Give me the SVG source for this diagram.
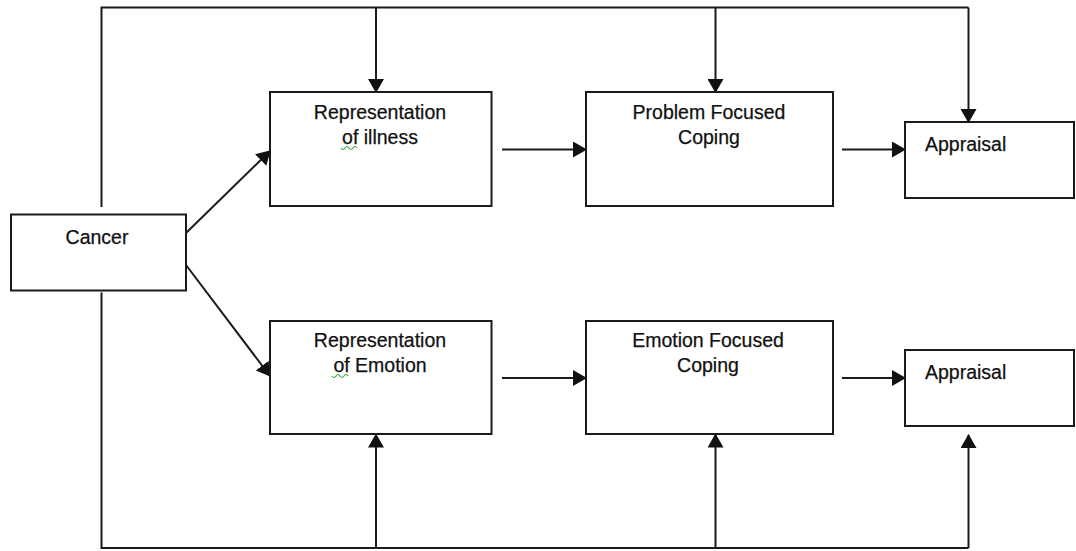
<svg xmlns="http://www.w3.org/2000/svg" width="1076" height="551" viewBox="0 0 1076 551">
  <style>
    .box { fill: #ffffff; stroke: #1a1a1a; stroke-width: 2; }
    .lbl { font-family: "Liberation Sans", Arial, sans-serif; font-size: 19.5px; fill: #111111; stroke: #111111; stroke-width: 0.25; }
    .mid { text-anchor: middle; }
    .conn { fill: none; stroke: #1a1a1a; stroke-width: 2; }
    .arr { fill: none; stroke: #1a1a1a; stroke-width: 2; marker-end: url(#head); }
    .squig { fill: none; stroke: #3aa63a; stroke-width: 1.2; }
  </style>
  <defs>
    <marker id="head" viewBox="0 0 14 16" refX="13" refY="8" markerWidth="14" markerHeight="16" markerUnits="userSpaceOnUse" orient="auto">
      <path d="M0,0 L14,8 L0,16 z" fill="#111111"/>
    </marker>
  </defs>
  <rect width="1076" height="551" fill="#ffffff"/>

  <g id="connectors">
    <!-- top feedback bus -->
    <polyline class="conn" points="101.5,207 101.5,7.5 968.5,7.5"/>
    <line class="arr" x1="968.5" y1="7.5" x2="968.5" y2="122"/>
    <line class="arr" x1="376" y1="7.5" x2="376" y2="92"/>
    <line class="arr" x1="715.5" y1="7.5" x2="715.5" y2="92"/>
    <!-- bottom feedback bus -->
    <polyline class="conn" points="101.5,292.5 101.5,548 968.5,548"/>
    <line class="arr" x1="968.5" y1="548" x2="968.5" y2="435"/>
    <line class="arr" x1="376" y1="548" x2="376" y2="434.5"/>
    <line class="arr" x1="715.5" y1="548" x2="715.5" y2="434.5"/>
    <!-- cancer to representations -->
    <line class="arr" x1="186" y1="233" x2="270" y2="151"/>
    <line class="arr" x1="186" y1="265" x2="270" y2="376"/>
    <!-- horizontal flows -->
    <line class="arr" x1="502" y1="149.5" x2="586" y2="149.5"/>
    <line class="arr" x1="842" y1="149.5" x2="905" y2="149.5"/>
    <line class="arr" x1="502" y1="378" x2="586" y2="378"/>
    <line class="arr" x1="842" y1="378" x2="905" y2="378"/>
  </g>

  <g id="cancer">
    <rect class="box" x="11" y="214.5" width="175" height="76"/>
    <text class="lbl mid" x="97" y="243.5">Cancer</text>
  </g>

  <g id="rep-illness">
    <rect class="box" x="270" y="92" width="221.5" height="114"/>
    <text class="lbl mid" x="380" y="118.5">Representation</text>
    <text class="lbl mid" x="380" y="144">of illness</text>
    <path class="squig" d="M341,148 q2,3 4,0 t4,0 t4,0 t4,0"/>
  </g>

  <g id="problem-coping">
    <rect class="box" x="586" y="92" width="247" height="114"/>
    <text class="lbl mid" x="709" y="118.5">Problem Focused</text>
    <text class="lbl mid" x="709" y="144">Coping</text>
  </g>

  <g id="appraisal-top">
    <rect class="box" x="905" y="122" width="169" height="76"/>
    <text class="lbl" x="925" y="151">Appraisal</text>
  </g>

  <g id="rep-emotion">
    <rect class="box" x="270" y="321" width="221.5" height="113"/>
    <text class="lbl mid" x="380" y="347">Representation</text>
    <text class="lbl mid" x="380" y="372">of Emotion</text>
    <path class="squig" d="M332,376 q2,3 4,0 t4,0 t4,0 t4,0"/>
  </g>

  <g id="emotion-coping">
    <rect class="box" x="586" y="321" width="247" height="113"/>
    <text class="lbl mid" x="708" y="347">Emotion Focused</text>
    <text class="lbl mid" x="708" y="372">Coping</text>
  </g>

  <g id="appraisal-bottom">
    <rect class="box" x="905" y="350" width="169" height="76"/>
    <text class="lbl" x="925" y="379">Appraisal</text>
  </g>
</svg>
